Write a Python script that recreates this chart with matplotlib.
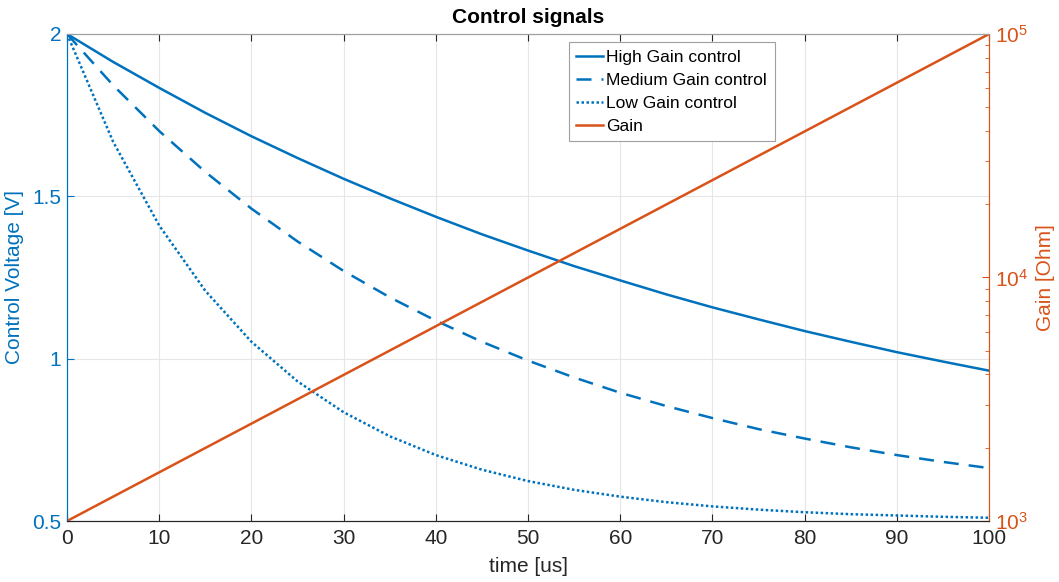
import matplotlib.pyplot as plt
from matplotlib.ticker import LogLocator, NullFormatter

plt.rcParams['font.family'] = ['Liberation Sans', 'DejaVu Sans']

time_us = [0, 5, 10, 15, 20, 25, 30, 35, 40, 45, 50,
           55, 60, 65, 70, 75, 80, 85, 90, 95, 100]
high_ctrl = [2.000, 1.914, 1.834, 1.757, 1.685, 1.618, 1.554, 1.494, 1.437, 1.383, 1.333,
             1.285, 1.241, 1.198, 1.158, 1.121, 1.085, 1.052, 1.020, 0.991, 0.963]
med_ctrl = [2.000, 1.842, 1.701, 1.575, 1.462, 1.361, 1.270, 1.189, 1.117, 1.052, 0.994,
            0.942, 0.895, 0.854, 0.817, 0.783, 0.754, 0.727, 0.703, 0.682, 0.663]
low_ctrl = [2.000, 1.668, 1.410, 1.209, 1.052, 0.930, 0.835, 0.761, 0.703, 0.658, 0.623,
            0.596, 0.575, 0.558, 0.545, 0.535, 0.527, 0.521, 0.517, 0.513, 0.510]
gain_time = [0, 100]
gain_ohm = [1e3, 1e5]

blue = '#0072BD'
orange = '#D95319'
axcol = '#262626'

fig = plt.figure(figsize=(10.59, 5.82), dpi=100)
ax = fig.add_axes([0.0633, 0.1048, 0.8707, 0.8368])
ax2 = ax.twinx()

l1, = ax.plot(time_us, high_ctrl, color=blue, lw=1.8, label='High Gain control')
l2, = ax.plot(time_us, med_ctrl, color=blue, lw=1.8, ls=(0, (6, 4)), label='Medium Gain control')
l3, = ax.plot(time_us, low_ctrl, color=blue, lw=1.8, ls=(0, (1, 1)), label='Low Gain control')
l4, = ax2.plot(gain_time, gain_ohm, color=orange, lw=1.8, label='Gain')

ax.set_xlim(0, 100)
ax.set_ylim(0.5, 2)
ax.set_xticks(range(0, 101, 10))
ax.set_yticks([0.5, 1, 1.5, 2])
ax.set_yticklabels(['0.5', '1', '1.5', '2'])
ax.grid(True, color='#e6e6e6', lw=0.8)

ax2.set_yscale('log')
ax2.set_ylim(1e3, 1e5)
ax2.yaxis.set_major_locator(LogLocator(base=10))
ax2.yaxis.set_minor_locator(LogLocator(base=10, subs=range(2, 10)))
ax2.yaxis.set_minor_formatter(NullFormatter())

ax.tick_params(axis='x', direction='in', length=5, labelsize=15, colors=axcol, pad=6,
               top=True, width=0.8)
ax.tick_params(axis='y', direction='in', length=5, labelsize=15, colors=blue, pad=4)
ax2.tick_params(axis='y', which='major', direction='in', length=5, labelsize=15, colors=orange, pad=4)
ax2.tick_params(axis='y', which='minor', direction='in', length=3, colors=orange)

for a in (ax, ax2):
    a.spines['top'].set_color('#a0a0a0')
    a.spines['bottom'].set_color(axcol)
    a.spines['left'].set_color(blue)
    a.spines['right'].set_color(orange)

ax.set_xlabel('time [us]', fontsize=15, color=axcol, labelpad=6)
ax.set_ylabel('Control Voltage [V]', fontsize=15, color=blue, labelpad=6)
ax2.set_ylabel('Gain [Ohm]', fontsize=15, color=orange, labelpad=6)
ax.set_title('Control signals', fontsize=15, fontweight='bold', color='black', pad=8)

leg = ax2.legend(handles=[l1, l2, l3, l4], loc='upper left', bbox_to_anchor=(0.544, 0.984),
                 fontsize=12.5, frameon=True, fancybox=False, framealpha=1,
                 edgecolor='#a0a0a0', handlelength=1.55, handletextpad=0.15,
                 borderpad=0.45, labelspacing=0.45, borderaxespad=0)
leg.get_frame().set_linewidth(0.8)

fig.savefig('out.png', dpi=100)
